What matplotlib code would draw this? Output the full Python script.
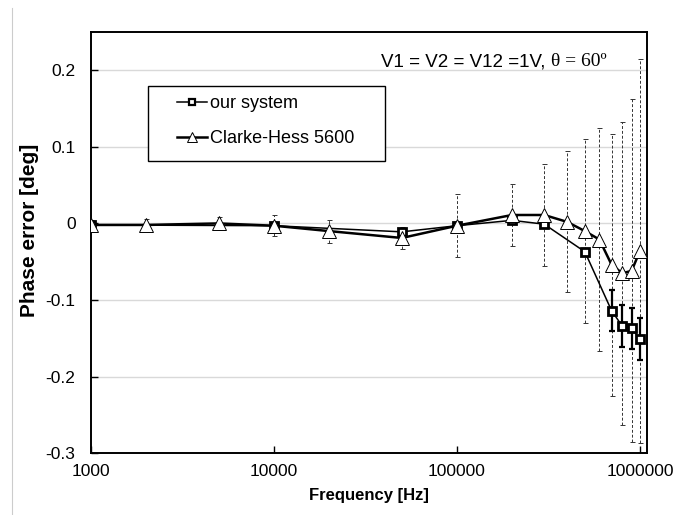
import numpy as np
import matplotlib
matplotlib.use("Agg")
import matplotlib.pyplot as plt
from matplotlib.lines import Line2D
from matplotlib.patches import Rectangle

plt.rcParams['font.family'] = ['Liberation Sans', 'DejaVu Sans']

# our system (squares)
ours_f = [1000, 10000, 50000, 100000, 200000, 300000, 500000,
          700000, 800000, 900000, 1000000]
ours_err = [-0.002, -0.003, -0.011, -0.003, 0.004, -0.001, -0.037,
            -0.114, -0.134, -0.137, -0.151]
ours_unc = [0.002, 0.003, 0.003, 0.003, 0.003, 0.003, 0.003,
            0.027, 0.027, 0.027, 0.027]

# Clarke-Hess 5600 (triangles)
ch_f = [1000, 2000, 5000, 10000, 20000, 50000, 100000, 200000, 300000,
        400000, 500000, 600000, 700000, 800000, 900000, 1000000]
ch_err = [-0.002, -0.002, 0.000, -0.003, -0.010, -0.019, -0.003, 0.011,
          0.011, 0.002, -0.010, -0.021, -0.054, -0.065, -0.062, -0.036]
ch_unc = [0.006, 0.008, 0.008, 0.014, 0.015, 0.014, 0.041, 0.041, 0.066,
          0.092, 0.120, 0.145, 0.171, 0.198, 0.224, 0.251]

yticks = [-0.3, -0.2, -0.1, 0, 0.1, 0.2]
ytick_labels = ['-0.3', '-0.2', '-0.1', '0', '0.1', '0.2']
xticks = [1000, 10000, 100000, 1000000]
xtick_labels = ['1000', '10000', '100000', '1000000']

fig = plt.figure(figsize=(6.78, 5.15), dpi=100)
ax = fig.add_axes([0.134, 0.120, 0.820, 0.818])

# grid lines
for v in yticks:
    ax.axhline(v, color='#d9d9d9', lw=1.0, zorder=0)

# Clarke-Hess error bars (dashed)
eb = ax.errorbar(ch_f, ch_err, yerr=ch_unc, fmt='none', ecolor='#333333',
                 elinewidth=0.7, capsize=1.8, capthick=0.7, zorder=2)
for lc in eb[2]:
    lc.set_linestyle((0, (3, 2)))

# our system
ax.errorbar(ours_f, ours_err, yerr=ours_unc, fmt='none', ecolor='black',
            elinewidth=1.6, capsize=2.3, capthick=1.6, zorder=3)
l1, = ax.plot(ours_f, ours_err, color='black', lw=1.1, marker='s', ms=5.6,
              mfc='white', mec='black', mew=2.0, zorder=4, label='our system')
l2, = ax.plot(ch_f, ch_err, color='black', lw=1.8, marker='^', ms=9.5,
              mfc='white', mec='black', mew=0.7, zorder=5,
              label='Clarke-Hess 5600')

ax.set_xscale('log')
ax.set_xlim(1000, 1.09e6)
ax.set_ylim(-0.3, 0.25)
ax.set_xticks(xticks)
ax.set_xticklabels(xtick_labels)
ax.xaxis.set_minor_locator(matplotlib.ticker.NullLocator())
ax.set_yticks(yticks)
ax.set_yticklabels(ytick_labels)
ax.tick_params(axis='both', direction='in', length=5, width=1.0,
               labelsize=12.5, colors='black')
ax.tick_params(axis='y', pad=11)
ax.tick_params(axis='x', pad=8)
for s in ax.spines.values():
    s.set_linewidth(1.4)
    s.set_color('black')

ax.set_xlabel('Frequency [Hz]', fontsize=12, fontweight='bold', labelpad=6)
ax.set_ylabel('Phase error [deg]', fontsize=15, fontweight='bold')
ax.yaxis.set_label_coords(-0.093, 0.53)

# legend box (Excel style, extra room on the right)
ax.add_patch(Rectangle((0.1025, 0.694), 0.4265, 0.178, transform=ax.transAxes,
                       fill=True, facecolor='white', edgecolor='black',
                       lw=1.0, zorder=6))
leg = ax.legend(loc='upper left', bbox_to_anchor=(0.1547, 0.85), fontsize=13,
                frameon=False, handlelength=1.66, handletextpad=0.17,
                borderpad=0, labelspacing=1.0, borderaxespad=0)
leg.set_zorder(7)
hs = leg.legend_handles
hs[0].set_markersize(4.4)
hs[0].set_markeredgewidth(1.6)
hs[1].set_markersize(7)

# condition note
t1 = ax.text(0.522, 0.919, 'V1 = V2 = V12 =1V, ', transform=ax.transAxes,
             fontsize=13.5, family='Liberation Sans', va='baseline', ha='left')
fig.canvas.draw()
bb = t1.get_window_extent()
x_end = ax.transAxes.inverted().transform((bb.x1, bb.y0))[0]
ax.text(x_end, 0.919, '\u03b8 = 60\u00ba', transform=ax.transAxes,
        fontsize=14, family='Liberation Serif', va='baseline', ha='left')

# thin border line at the left edge of the picture
fig.add_artist(Line2D([12 / 678, 12 / 678], [0, 1 - 8 / 515],
                      transform=fig.transFigure, color='#cccccc', lw=0.8))

fig.savefig('out.png', dpi=100)
